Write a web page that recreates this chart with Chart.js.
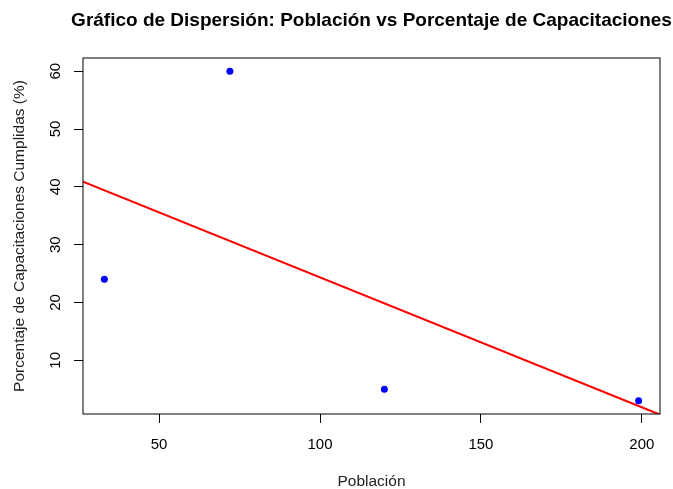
<!DOCTYPE html>
<html>
<head>
<meta charset="utf-8">
<script src="https://cdn.jsdelivr.net/npm/chart.js@4.4.1/dist/chart.umd.min.js"></script>
<style>
html,body{margin:0;padding:0;background:#fff;}
#wrap{width:673px;height:489px;}
</style>
</head>
<body>
<div id="wrap"><canvas id="c" width="673" height="489"></canvas></div>
<script>
// Data
const poblacion = [33, 72, 120, 199];
const porcentaje = [24, 60, 5, 3];
// Fitted line endpoints (at the plot edges)
const fitLineX = [26.36, 205.64];
const fitLineY = [40.9, 0.6];
// Axis limits and ticks
const xLimits = [26.36, 205.64];
const yLimits = [0.72, 62.28];
const xTicks = [50, 100, 150, 200];
const yTicks = [10, 20, 30, 40, 50, 60];

const titleText = 'Gráfico de Dispersión: Población vs Porcentaje de Capacitaciones';
const xTitle = 'Población';
const yTitle = 'Porcentaje de Capacitaciones Cumplidas (%)';
const FONT = '"Liberation Sans", Arial, sans-serif';

const points = poblacion.map((x, i) => ({x: x, y: porcentaje[i]}));
const line = fitLineX.map((x, i) => ({x: x, y: fitLineY[i]}));

const decor = {
  id: 'decor',
  afterDraw(chart) {
    const ctx = chart.ctx;
    const a = chart.chartArea;
    const ys = chart.scales.y;
    ctx.save();
    // box
    ctx.strokeStyle = '#000';
    ctx.lineWidth = 1;
    ctx.strokeRect(a.left, a.top, a.right - a.left, a.bottom - a.top);
    // y tick labels rotated
    ctx.fillStyle = '#000';
    ctx.font = '15px ' + FONT;
    ctx.textAlign = 'center';
    ctx.textBaseline = 'middle';
    yTicks.forEach(v => {
      const y = ys.getPixelForValue(v);
      ctx.save();
      ctx.translate(56, y);
      ctx.rotate(-Math.PI / 2);
      ctx.fillText(String(v), 0, 0);
      ctx.restore();
    });
    // title
    ctx.font = 'bold 19px ' + FONT;
    ctx.fillText(titleText, (a.left + a.right) / 2, 21);
    ctx.restore();
  }
};

new Chart(document.getElementById('c'), {
  type: 'scatter',
  data: {
    datasets: [
      {
        type: 'line',
        data: line,
        borderColor: '#ff0000',
        borderWidth: 2,
        pointRadius: 0,
        fill: false,
        order: 0
      },
      {
        data: points,
        backgroundColor: '#0000ff',
        borderColor: '#0000ff',
        pointRadius: 3.5,
        borderWidth: 0,
        order: 1
      }
    ]
  },
  options: {
    responsive: false,
    animation: false,
    layout: {padding: {left: 0, right: 13, top: 58, bottom: 0}},
    plugins: {legend: {display: false}, title: {display: false}, tooltip: {enabled: false}},
    scales: {
      x: {
        type: 'linear',
        position: 'bottom',
        min: xLimits[0],
        max: xLimits[1],
        afterBuildTicks: s => { s.ticks = xTicks.map(v => ({value: v})); },
        afterFit: s => { s.height = 75; },
        grid: {drawOnChartArea: false, drawTicks: true, tickLength: 9, color: '#000', lineWidth: 1},
        border: {display: false},
        ticks: {color: '#000', font: {family: FONT, size: 15}, padding: 13, maxRotation: 0, callback: v => String(v)},
        title: {display: true, text: xTitle, color: '#222', font: {family: FONT, size: 15.5}, padding: {top: 0, bottom: -2}}
      },
      y: {
        type: 'linear',
        position: 'left',
        min: yLimits[0],
        max: yLimits[1],
        afterBuildTicks: s => { s.ticks = yTicks.map(v => ({value: v})); },
        afterFit: s => { s.width = 83; },
        grid: {drawOnChartArea: false, drawTicks: true, tickLength: 9, color: '#000', lineWidth: 1},
        border: {display: false},
        ticks: {display: false},
        title: {display: true, text: yTitle, color: '#222', font: {family: FONT, size: 15.5}, padding: {top: 10, bottom: 0}}
      }
    }
  },
  plugins: [decor]
});
</script>
</body>
</html>
